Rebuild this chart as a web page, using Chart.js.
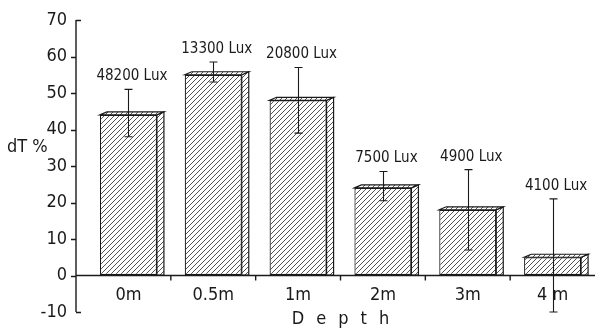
<!DOCTYPE html>
<html>
<head>
<meta charset="utf-8">
<script src="https://cdn.jsdelivr.net/npm/chart.js@4.4.1/dist/chart.umd.min.js"></script>
<style>
  html, body { margin: 0; padding: 0; background: #fff; }
  #wrap { width: 595px; height: 331px; position: relative; }
</style>
</head>
<body>
<div id="wrap"><canvas id="depthChart"></canvas></div>
<script>
// values
const categories = ['0m', '0.5m', '1m', '2m', '3m', '4 m'];
const dT = [44, 55, 48, 24, 18, 5];
const errHigh = [51, 58.5, 57, 28.5, 29, 21];
const errLow = [38, 53, 39, 20.5, 7, -10];
const luxLabels = ['48200 Lux', '13300 Lux', '20800 Lux', '7500 Lux', '4900 Lux', '4100 Lux'];
const yMin = -10, yMax = 70, yStep = 10;

const FONT = '"DejaVu Sans Condensed", "DejaVu Sans", sans-serif';
const INK = '#1a1a1a';

document.addEventListener('DOMContentLoaded', () => {
    initChart();
});

function makeHatch(ctx) {
    const tile = document.createElement('canvas');
    tile.width = 5; tile.height = 5;
    const g = tile.getContext('2d');
    g.fillStyle = '#fff';
    g.fillRect(0, 0, 5, 5);
    g.strokeStyle = '#333';
    g.lineWidth = 0.85;
    g.beginPath();
    g.moveTo(0, 5); g.lineTo(5, 0);
    g.moveTo(-1, 1); g.lineTo(1, -1);
    g.moveTo(4, 6); g.lineTo(6, 4);
    g.stroke();
    return ctx.createPattern(tile, 'repeat');
}

// 3D faces, axes, error bars and labels drawn through the chart's own scales
const figurePlugin = {
    id: 'figure',
    afterDatasetsDraw(chart) {
        const ctx = chart.ctx;
        const x = chart.scales.x, y = chart.scales.y;
        const area = chart.chartArea;
        const axisX = area.left - 10;
        const zeroY = y.getPixelForValue(0);
        const depthX = 7, depthY = 3;
        const hatch = chart.$hatch;

        ctx.save();
        // 3D side and top of each bar
        chart.getDatasetMeta(0).data.forEach(bar => {
            const l = bar.x - bar.width / 2, r = bar.x + bar.width / 2;
            const top = bar.y, base = bar.base;
            ctx.fillStyle = hatch;
            ctx.strokeStyle = INK;
            ctx.lineWidth = 1.2;
            ctx.beginPath();
            ctx.moveTo(r, top); ctx.lineTo(r + depthX, top - depthY);
            ctx.lineTo(r + depthX, base); ctx.lineTo(r, base); ctx.closePath();
            ctx.fill(); ctx.stroke();
            ctx.beginPath();
            ctx.moveTo(l, top); ctx.lineTo(l + depthX, top - depthY);
            ctx.lineTo(r + depthX, top - depthY); ctx.lineTo(r, top); ctx.closePath();
            ctx.fill(); ctx.stroke();
        });

        // y axis line and ticks
        ctx.strokeStyle = INK;
        ctx.lineWidth = 1.4;
        ctx.beginPath();
        ctx.moveTo(axisX, y.getPixelForValue(yMax));
        ctx.lineTo(axisX, y.getPixelForValue(yMin));
        y.ticks.forEach(t => {
            const py = Math.round(y.getPixelForValue(t.value)) + 0.5;
            if (t.value === yMax || t.value === yMin) {
                ctx.moveTo(axisX, py); ctx.lineTo(axisX + 5, py);
            } else {
                ctx.moveTo(axisX - 5, py); ctx.lineTo(axisX, py);
            }
        });
        ctx.stroke();

        // zero line with category boundary ticks
        ctx.beginPath();
        ctx.moveTo(axisX, zeroY); ctx.lineTo(area.right, zeroY);
        for (let i = 0; i < categories.length - 1; i++) {
            const bx = (x.getPixelForValue(i) + x.getPixelForValue(i + 1)) / 2;
            ctx.moveTo(bx, zeroY); ctx.lineTo(bx, zeroY + 5);
        }
        ctx.stroke();

        // error bars
        ctx.lineWidth = 1.1;
        ctx.beginPath();
        errHigh.forEach((hi, i) => {
            const px = Math.round(x.getPixelForValue(i)) + 0.5;
            const pHi = y.getPixelForValue(hi), pLo = y.getPixelForValue(errLow[i]);
            ctx.moveTo(px, pHi); ctx.lineTo(px, pLo);
            ctx.moveTo(px - 4, pHi); ctx.lineTo(px + 4, pHi);
            ctx.moveTo(px - 4, pLo); ctx.lineTo(px + 4, pLo);
        });
        ctx.stroke();

        // lux labels above error bars
        ctx.fillStyle = INK;
        ctx.font = '15px ' + FONT;
        ctx.textAlign = 'center';
        ctx.textBaseline = 'alphabetic';
        luxLabels.forEach((txt, i) => {
            ctx.fillText(txt, x.getPixelForValue(i) + depthX / 2, y.getPixelForValue(errHigh[i]) - 9);
        });

        // category labels under the zero line
        ctx.font = '18px ' + FONT;
        ctx.textBaseline = 'middle';
        categories.forEach((c, i) => {
            ctx.fillText(c, x.getPixelForValue(i), zeroY + 20);
        });

        // axis titles
        ctx.letterSpacing = '12px';
        ctx.fillText('Depth', (area.left + area.right) / 2 + 6, 319);
        ctx.letterSpacing = '0px';
        ctx.textAlign = 'left';
        ctx.fillText('dT %', 7, 147);
        ctx.restore();
    }
};

function initChart() {
    const canvas = document.getElementById('depthChart');
    const ctx = canvas.getContext('2d');
    const hatch = makeHatch(ctx);

    const chart = new Chart(ctx, {
        type: 'bar',
        data: {
            labels: categories,
            datasets: [{
                data: dT,
                backgroundColor: hatch,
                borderColor: INK,
                borderWidth: 1.2,
                borderSkipped: false,
                barPercentage: 0.672,
                categoryPercentage: 1
            }]
        },
        options: {
            responsive: true,
            maintainAspectRatio: false,
            animation: false,
            layout: { padding: { top: 20, bottom: 19, right: 0, left: 0 } },
            plugins: { legend: { display: false }, tooltip: { enabled: false } },
            scales: {
                x: { display: false },
                y: {
                    min: yMin,
                    max: yMax,
                    afterFit: s => { s.width = 86; },
                    ticks: {
                        stepSize: yStep,
                        padding: 3,
                        color: INK,
                        font: { family: FONT, size: 18 }
                    },
                    grid: {
                        display: true,
                        drawOnChartArea: false,
                        drawTicks: true,
                        tickLength: 16,
                        tickColor: 'rgba(0,0,0,0)'
                    },
                    border: { display: false }
                }
            }
        },
        plugins: [figurePlugin]
    });
    chart.$hatch = hatch;
    chart.draw();
}
</script>
</body>
</html>
